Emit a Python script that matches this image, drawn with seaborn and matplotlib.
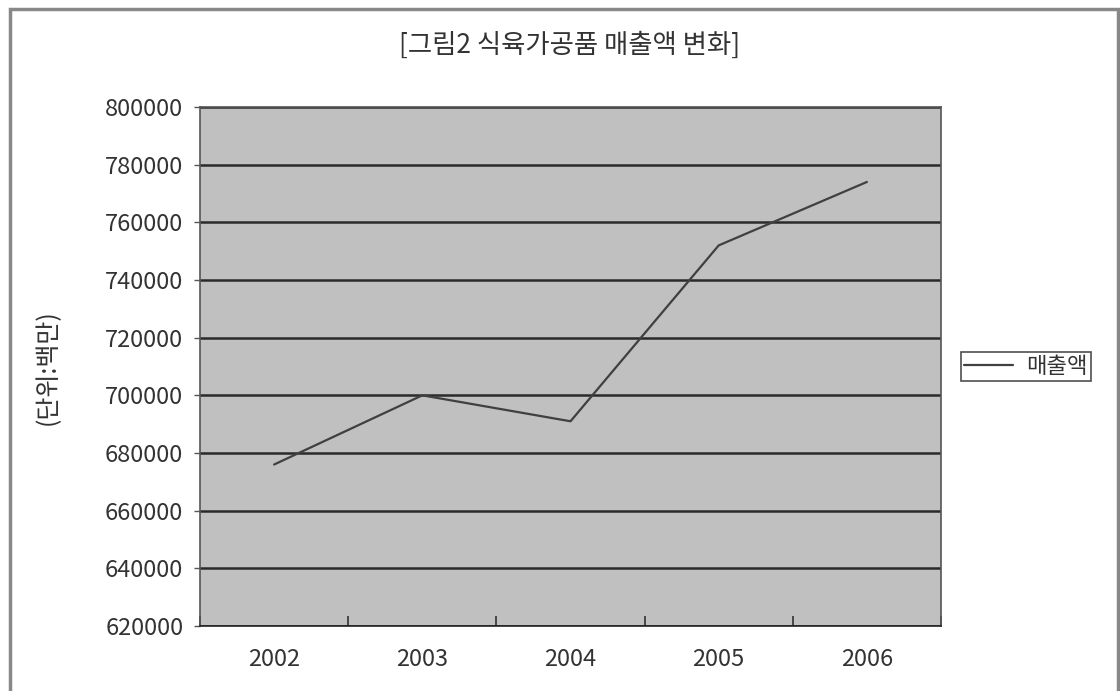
import matplotlib
matplotlib.use("Agg")
import matplotlib.pyplot as plt
import matplotlib.patches as mpatches
import seaborn as sns
import pandas as pd

# 데이터
years = ["2002", "2003", "2004", "2005", "2006"]
sales = [676000, 700000, 691000, 752000, 774000]
yticks = [620000, 640000, 660000, 680000, 700000, 720000, 740000, 760000, 780000, 800000]

df = pd.DataFrame({"year": years, "sales": sales})

sns.set_theme(style="white")
plt.rcParams["font.family"] = ["Noto Sans CJK KR", "DejaVu Sans"]

TEXT = "#333333"

fig = plt.figure(figsize=(11.2, 6.91), dpi=100)
ax = fig.add_axes([200 / 1120, 1 - 626 / 691, 741 / 1120, 519 / 691])

ax.set_facecolor("#c0c0c0")
sns.lineplot(data=df, x="year", y="sales", ax=ax, color="#404040",
             linewidth=1.6, label="매출액", sort=False)

ax.set_ylim(620000, 800000)
ax.set_yticks(yticks)
ax.set_yticklabels([str(v) for v in yticks], fontsize=17, color=TEXT)
ax.set_xlim(-0.5, len(years) - 0.5)
ax.set_xticks(range(len(years)))
ax.set_xticklabels(years, fontsize=17, color=TEXT)
ax.set_xticks([i + 0.5 for i in range(-1, len(years))], minor=True)

ax.grid(axis="y", color="#2a2a2a", linewidth=1.8)
ax.set_axisbelow(True)
for s in ax.spines.values():
    s.set_color("#555555")
    s.set_linewidth(1.2)
ax.spines["bottom"].set_color("#222222")

ax.tick_params(axis="x", which="major", bottom=True, length=0, pad=16)
ax.tick_params(axis="x", which="minor", bottom=True, direction="in", length=7,
               width=1.2, color="#333333")
ax.tick_params(axis="y", which="major", left=True, direction="out", length=4,
               width=1, color="#555555", pad=8)

ax.set_xlabel("")
ax.set_ylabel("")

fig.text(570 / 1120, 1 - 45 / 691, "[그림2 식육가공품 매출액 변화]",
         ha="center", va="center", fontsize=19, color=TEXT)
fig.text(48 / 1120, 1 - 367 / 691, "(단위:백만)", rotation=90,
         ha="center", va="center", fontsize=18, color=TEXT)

leg = ax.legend(loc="center left", bbox_to_anchor=(1.027, 0.5), frameon=True,
                fancybox=False, fontsize=16, handlelength=2.2, borderpad=0.15,
                borderaxespad=0, handletextpad=0.6)
leg.get_frame().set_edgecolor("#222222")
leg.get_frame().set_linewidth(1.2)
for t in leg.get_texts():
    t.set_color(TEXT)

# 바깥 테두리
fig.patches.append(mpatches.Rectangle((10 / 1120, -0.05), 1108 / 1120, 1.05 - 9 / 691,
                                      transform=fig.transFigure, fill=False,
                                      edgecolor="#888888", linewidth=2.5))

fig.savefig("out.png", dpi=100)
